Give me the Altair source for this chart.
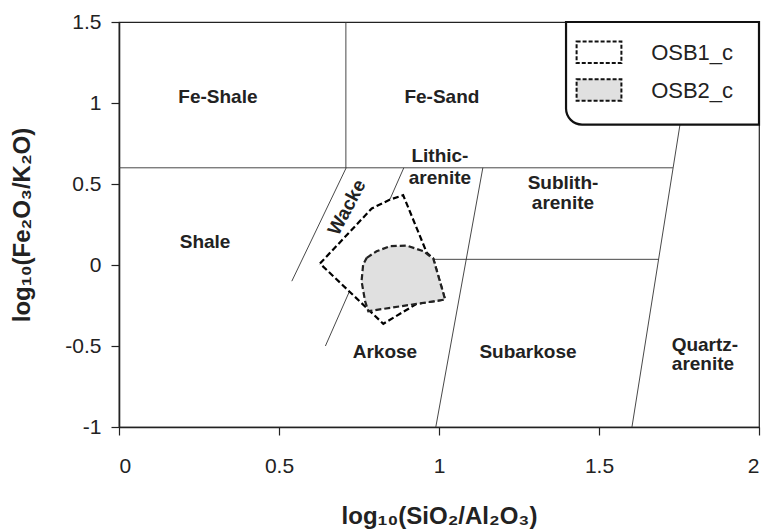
import altair as alt
import pandas as pd

FONT = "Liberation Sans"
INK = "#222222"

# ---- classification field boundaries (Herron 1988) ----
seg_x1 = [0.0, 0.709, 0.71, 0.89, 1.137, 1.603, 0.975]
seg_y1 = [0.6, 0.6, 0.6, 0.6, 0.6, -1.0, 0.035]
seg_x2 = [1.731, 0.709, 0.54, 0.645, 0.99, 1.804, 1.686]
seg_y2 = [0.6, 1.5, -0.1, -0.5, -1.0, 1.5, 0.035]

# ---- sample fields ----
osb1_x = [0.628, 0.790, 0.847, 0.888, 0.962, 0.982, 1.019, 0.930, 0.826]
osb1_y = [0.009, 0.349, 0.404, 0.431, 0.075, 0.040, -0.213, -0.240, -0.363]
osb2_x = [0.774, 0.805, 0.847, 0.899, 0.951, 0.982, 1.019, 0.930, 0.779, 0.769, 0.758, 0.763]
osb2_y = [0.044, 0.085, 0.116, 0.120, 0.085, 0.040, -0.213, -0.240, -0.285, -0.223, -0.100, 0.003]

# ---- region labels ----
lab_text = ["Fe-Shale", "Fe-Sand", "Shale", "Lithic-", "arenite", "Sublith-", "arenite",
            "Arkose", "Subarkose", "Quartz-", "arenite"]
lab_x = [0.309, 1.009, 0.269, 1.003, 1.003, 1.3875, 1.3875, 0.831, 1.278, 1.831, 1.825]
lab_y = [1.040, 1.040, 0.145, 0.670, 0.540, 0.509, 0.380, -0.540, -0.540, -0.491, -0.614]

wacke_text = ["Wacke"]
wacke_x = [0.7125]
wacke_y = [0.355]

# ---- legend ----
leg_names = ["OSB1_c", "OSB2_c"]
leg_fill = ["white", "#e0e0e0"]

x_ticks = [0, 0.5, 1, 1.5, 2]
y_ticks = [-1, -0.5, 0, 0.5, 1, 1.5]

xs = alt.Scale(domain=[0, 2], nice=False, zero=False)
ys = alt.Scale(domain=[-1, 1.5], nice=False, zero=False)

segs = pd.DataFrame({"x": seg_x1, "y": seg_y1, "x2": seg_x2, "y2": seg_y2})

base_x = alt.X("x:Q", scale=xs,
               axis=alt.Axis(values=x_ticks, title="log₁₀(SiO₂/Al₂O₃)",
                             labelExpr="'' + datum.value"))
base_y = alt.Y("y:Q", scale=ys,
               axis=alt.Axis(values=y_ticks, title="log₁₀(Fe₂O₃/K₂O)",
                             labelExpr="'' + datum.value"))

lines = alt.Chart(segs).mark_rule(color="#333333", strokeWidth=0.9).encode(
    x=base_x, y=base_y, x2="x2:Q", y2="y2:Q")


def poly(px, py, name):
    xs_ = list(px) + [px[0]]
    ys_ = list(py) + [py[0]]
    return pd.DataFrame({"x": xs_, "y": ys_, "i": range(len(xs_)), "g": name})


p1 = alt.Chart(poly(osb1_x, osb1_y, "OSB1_c")).mark_line(
    fill="white", stroke="black", strokeWidth=2.2, strokeDash=[6, 3]
).encode(x=alt.X("x:Q", scale=xs), y=alt.Y("y:Q", scale=ys), order="i:Q")

p2 = alt.Chart(poly(osb2_x, osb2_y, "OSB2_c")).mark_line(
    fill="#e0e0e0", stroke="#222222", strokeWidth=2.2, strokeDash=[6, 3]
).encode(x=alt.X("x:Q", scale=xs), y=alt.Y("y:Q", scale=ys), order="i:Q")

labels = alt.Chart(pd.DataFrame({"t": lab_text, "x": lab_x, "y": lab_y})).mark_text(
    font=FONT, fontSize=19, fontWeight="bold", color=INK, baseline="middle", align="center"
).encode(x=alt.X("x:Q", scale=xs), y=alt.Y("y:Q", scale=ys), text="t:N")

wacke = alt.Chart(pd.DataFrame({"t": wacke_text, "x": wacke_x, "y": wacke_y})).mark_text(
    font=FONT, fontSize=19, fontWeight="bold", color=INK, baseline="middle", align="center",
    angle=298
).encode(x=alt.X("x:Q", scale=xs), y=alt.Y("y:Q", scale=ys), text="t:N")

# legend box (rounded bottom-left corner)
legbox = alt.Chart(pd.DataFrame({"x": [1.397], "x2": [2.0], "y": [1.5], "y2": [0.867]})).mark_rect(
    fill="white", stroke="#111111", strokeWidth=2.2, cornerRadiusBottomLeft=16
).encode(x=alt.X("x:Q", scale=xs), x2="x2:Q", y=alt.Y("y:Q", scale=ys), y2="y2:Q")

legsym = alt.Chart(pd.DataFrame({
    "x": [1.43, 1.43], "x2": [1.57, 1.57],
    "y": [1.38, 1.146], "y2": [1.247, 1.014], "f": leg_fill, "n": leg_names
})).mark_rect(stroke="#111111", strokeWidth=2, strokeDash=[4, 2]).encode(
    x=alt.X("x:Q", scale=xs), x2="x2:Q", y=alt.Y("y:Q", scale=ys), y2="y2:Q",
    fill=alt.Fill("f:N", scale=None))

legtxt = alt.Chart(pd.DataFrame({"x": [1.663, 1.663], "y": [1.31, 1.077], "n": leg_names})).mark_text(
    font=FONT, fontSize=22, color=INK, align="left", baseline="middle"
).encode(x=alt.X("x:Q", scale=xs), y=alt.Y("y:Q", scale=ys), text="n:N")

chart = alt.layer(lines, p1, p2, labels, wacke, legbox, legsym, legtxt).properties(
    width=640, height=405,
    padding={"left": 119, "top": 22, "right": 12, "bottom": 104},
    autosize="none",
).configure_view(stroke="#222222", strokeWidth=1.2).configure_axis(
    grid=False, domainColor="#222222", domainWidth=1.6, tickColor="#222222", tickWidth=1.2,
    tickSize=8, labelFont=FONT, labelFontSize=21, labelColor=INK,
    titleFont=FONT, titleFontSize=24, titleFontWeight="bold", titleColor=INK,
).configure_axisX(labelPadding=20, titlePadding=28).configure_axisY(
    labelPadding=10, titlePadding=30)

chart.save("out.html", embed_options={"renderer": "svg", "actions": False})
